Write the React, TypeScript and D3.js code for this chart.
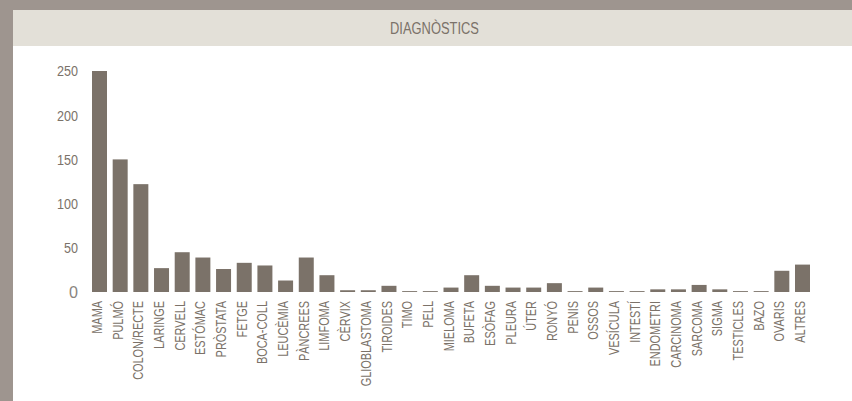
import { useEffect, useRef } from "react";
import * as d3 from "d3";

const categories = [
  "MAMA", "PULMÓ", "COLON/RECTE", "LARINGE", "CERVELL", "ESTÓMAC", "PRÒSTATA",
  "FETGE", "BOCA-COLL", "LEUCÈMIA", "PÀNCREES", "LIMFOMA", "CÈRVIX",
  "GLIOBLASTOMA", "TIROIDES", "TIMO", "PELL", "MIELOMA", "BUFETA", "ESÒFAG",
  "PLEURA", "ÚTER", "RONYÓ", "PENIS", "OSSOS", "VESÍCULA", "INTESTÍ",
  "ENDOMETRI", "CARCINOMA", "SARCOMA", "SIGMA", "TESTICLES", "BAZO", "OVARIS",
  "ALTRES",
];
const values = [
  250, 150, 122, 27, 45, 39, 26, 33, 30, 13, 39, 19, 2, 2, 7, 1, 1, 5, 19, 7,
  5, 5, 10, 1, 5, 1, 1, 3, 3, 8, 3, 1, 1, 24, 31,
];
const yTicks = [0, 50, 100, 150, 200, 250];
const title = "DIAGNÒSTICS";

const W = 852;
const H = 401;
const frame = "#9e958f";
const headerBg = "#e3e0d8";
const barColor = "#7b7269";
const textColor = "#7b7269";
// no condensed face installed, so squeeze a normal one horizontally
const font = "'Liberation Sans', Arial, sans-serif";

export default function App() {
  const ref = useRef<SVGSVGElement>(null);

  useEffect(() => {
    const svg = d3.select(ref.current);
    svg.selectAll("*").remove();

    // frame + panel
    svg.append("rect").attr("width", W).attr("height", H).attr("fill", frame);
    svg.append("rect").attr("x", 13).attr("y", 10).attr("width", W - 13).attr("height", H - 10).attr("fill", "#fff");
    svg.append("rect").attr("x", 13).attr("y", 10).attr("width", W - 13).attr("height", 36).attr("fill", headerBg);
    svg
      .append("text")
      .attr("transform", `translate(${(13 + W) / 2 + 2}, 28) scale(0.76, 1)`)
      .attr("dy", "0.36em")
      .attr("text-anchor", "middle")
      .attr("fill", textColor)
      .style("font-family", font)
      .style("font-size", "17px")
      .text(title);

    const x = d3
      .scaleBand<string>()
      .domain(categories)
      .range([92, 810])
      .paddingInner(0.275)
      .paddingOuter(0);

    const y = d3.scaleLinear().domain([0, 250]).range([292, 71]);

    svg
      .append("g")
      .selectAll("rect")
      .data(values)
      .join("rect")
      .attr("x", (_d, i) => x(categories[i]) as number)
      .attr("y", (d) => y(d))
      .attr("width", x.bandwidth())
      .attr("height", (d) => y(0) - y(d))
      .attr("fill", barColor);

    // y tick labels ("0" is drawn bigger and wider in the original)
    svg
      .append("g")
      .selectAll("text")
      .data(yTicks)
      .join("text")
      .attr("transform", (d) => `translate(78, ${y(d)}) scale(${d === 0 ? 0.95 : 0.84}, 1)`)
      .attr("dy", "0.36em")
      .attr("text-anchor", "end")
      .attr("fill", (d) => (d === 0 ? "#8a8580" : textColor))
      .style("font-family", font)
      .style("font-size", (d) => (d === 0 ? "17px" : "15px"))
      .text((d) => String(d));

    // x labels, rotated
    svg
      .append("g")
      .selectAll("text")
      .data(categories)
      .join("text")
      .attr(
        "transform",
        (d) => `translate(${(x(d) as number) + x.bandwidth() / 2 - 2.5}, 301) rotate(-90) scale(0.78, 1)`
      )
      .attr("dy", "0.36em")
      .attr("text-anchor", "end")
      .attr("fill", textColor)
      .style("font-family", font)
      .style("font-size", "14px")
      .text((d) => d);
  }, []);

  return (
    <div style={{ position: "fixed", left: 0, top: 0 }}>
      <svg ref={ref} width={W} height={H} style={{ display: "block" }} />
    </div>
  );
}
